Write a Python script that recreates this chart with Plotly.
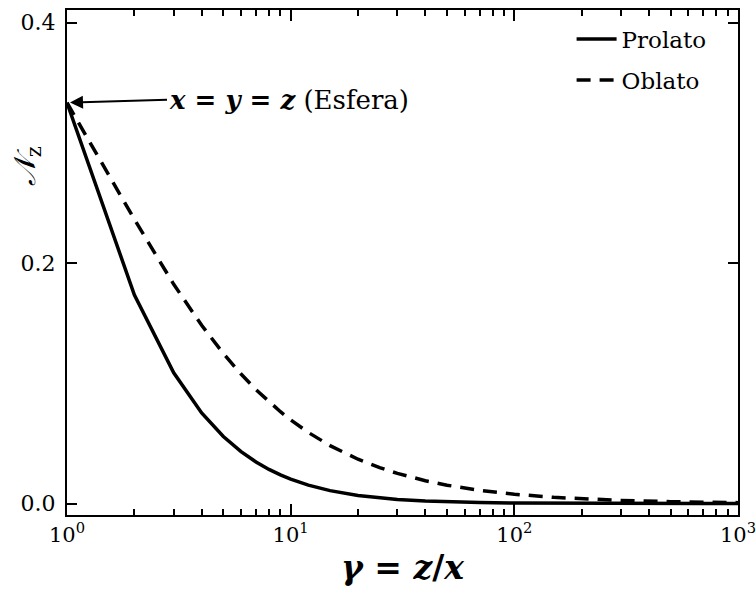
import numpy as np
import plotly.graph_objects as go

# Aspect ratio gamma = z/x
gamma = [1, 2, 3, 4, 5, 6, 7, 8, 9, 10, 12, 15, 20, 25, 30, 40, 50, 70,
         100, 150, 200, 300, 500, 700, 1000]

# Demagnetization factor N_z
n_prolato = [0.3333, 0.1736, 0.1087, 0.0754, 0.0558, 0.0432, 0.0346, 0.0284,
             0.0238, 0.0203, 0.0153, 0.01075, 0.00675, 0.00467, 0.00344,
             0.00212, 0.00144, 0.00081, 0.00043, 0.00021, 0.000125,
             0.00006, 0.000024, 0.000013, 0.0000066]
n_oblato = [0.3333, 0.2364, 0.1823, 0.1482, 0.1248, 0.1077, 0.0947, 0.0846,
            0.0764, 0.0696, 0.0591, 0.0482, 0.0369, 0.0299, 0.0251, 0.0190,
            0.0153, 0.0110, 0.00776, 0.00519, 0.00391, 0.00261, 0.00157,
            0.00112, 0.000785]

x_tickvals = [1, 10, 100, 1000]
x_ticktext = ["10<sup>0</sup>", "10<sup>1</sup>", "10<sup>2</sup>", "10<sup>3</sup>"]
x_minor = [2, 3, 4, 5, 6, 7, 8, 9, 20, 30, 40, 50, 60, 70, 80, 90,
           200, 300, 400, 500, 600, 700, 800, 900]
y_tickvals = [0.0, 0.2, 0.4]

FONT = "DejaVu Serif, Liberation Serif, serif"
XRANGE = [0, 3]

def f(size):
    return dict(family=FONT, size=size, color="black")

fig = go.Figure()
fig.add_trace(go.Scatter(x=gamma, y=n_prolato, mode="lines", name="Prolato",
                         line=dict(color="black", width=3.5), legendgroup="a"))
fig.add_trace(go.Scatter(x=gamma, y=n_oblato, mode="lines", name="Oblato",
                         line=dict(color="black", width=3.5, dash="14px,9px"),
                         legendgroup="b"))
# invisible helper trace so the minor-tick overlay axis (linear in log10 units) is drawn
fig.add_trace(go.Scatter(x=np.log10(gamma), y=n_prolato, xaxis="x2", mode="lines",
                         line=dict(width=0, color="rgba(0,0,0,0)"),
                         showlegend=False, hoverinfo="skip"))

fig.update_layout(
    width=756, height=597,
    margin=dict(l=67, r=18, t=8, b=82),
    paper_bgcolor="white", plot_bgcolor="white",
    font=f(20),
    showlegend=True,
    legend=dict(x=0.752, y=0.985, xanchor="left", yanchor="top",
                bgcolor="rgba(0,0,0,0)", font=f(23),
                tracegroupgap=8, itemwidth=40),
    xaxis=dict(type="log", range=XRANGE, tickmode="array", tickvals=x_tickvals,
               ticktext=x_ticktext, ticklabeloverflow="allow", automargin=False,
               ticks="inside", ticklen=11, tickwidth=2, tickcolor="black",
               showline=True, linecolor="black", linewidth=2,
               mirror="ticks", showgrid=False, zeroline=False, tickfont=f(21)),
    xaxis2=dict(type="linear", range=XRANGE, overlaying="x", anchor="y",
                side="bottom", tickmode="array",
                tickvals=list(np.log10(x_minor)), showticklabels=False,
                ticks="inside", ticklen=6, tickwidth=1.8, tickcolor="black",
                showline=True, linecolor="black", linewidth=2, mirror="ticks",
                showgrid=False, zeroline=False),
    yaxis=dict(range=[-0.0095, 0.4104], tickvals=y_tickvals, tickformat=".1f",
               ticks="inside", ticklen=10, tickwidth=1.6, tickcolor="black",
               showline=True, linecolor="black", linewidth=2, mirror="ticks",
               showgrid=False, zeroline=False, tickfont=f(22),
               ticklabelstandoff=5),
)

fig.add_annotation(x=0.5, xref="paper", y=-0.103, yref="paper",
                   text="<b><i>γ</i> = <i>z</i>/<i>x</i></b>", showarrow=False,
                   font=f(33), xanchor="center", yanchor="middle")
fig.add_annotation(x=-0.06, xref="paper", y=0.69, yref="paper",
                   text="<i>𝒩</i><sub>z</sub>", showarrow=False, textangle=-90,
                   font=f(30), xanchor="center", yanchor="middle")
fig.add_annotation(x=0, y=1/3, xref="x", yref="y",
                   text="<b><i>x</i> = <i>y</i> = <i>z</i></b> (Esfera)",
                   showarrow=True, arrowhead=2, arrowsize=1.3, arrowwidth=2,
                   arrowcolor="black", ax=100, ay=-3, xanchor="left",
                   standoff=3, font=f(26))

fig.write_html("out.html")
